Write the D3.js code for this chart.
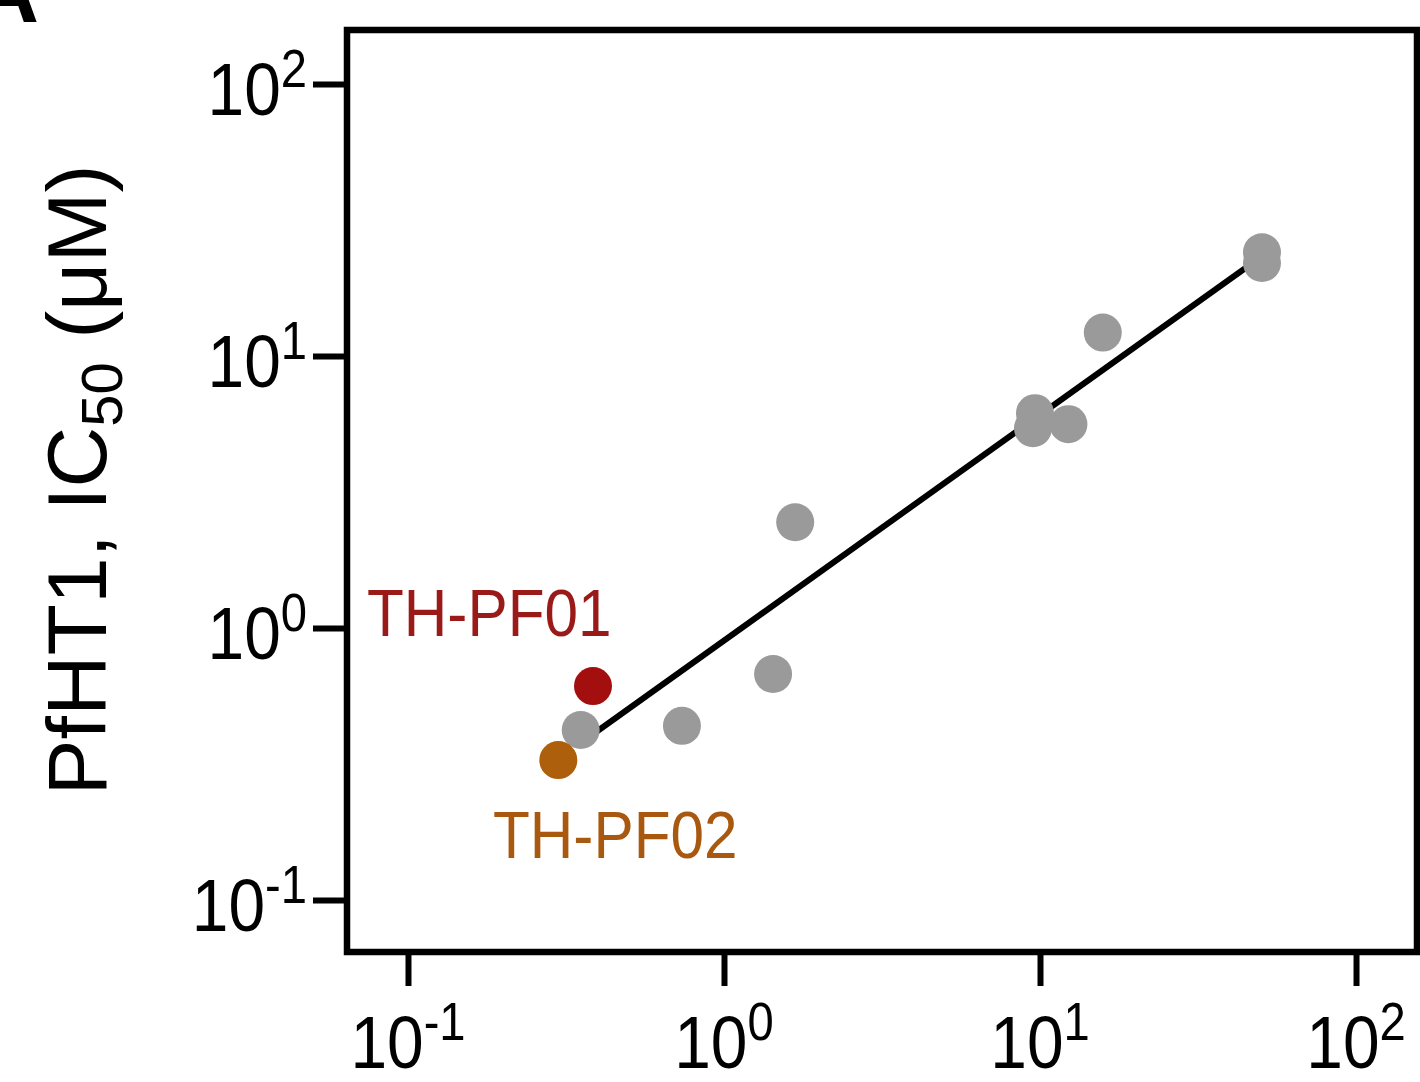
<!DOCTYPE html>
<html>
<head>
<meta charset="utf-8">
<script src="https://cdn.jsdelivr.net/npm/d3@7"></script>
<style>
  body { margin: 0; background: #fff; }
  svg { display: block; font-family: "Liberation Sans", Arial, sans-serif; }
</style>
</head>
<body>
<svg class="chart" width="1420" height="1082"></svg>
<script>
// values (x and y both in µM, log axes)
var grayX = [50.4, 50.4, 15.8, 9.64, 9.50, 12.3, 1.68, 1.43, 0.736, 0.352];
var grayY = [24.1, 22.0, 12.2, 6.17, 5.43, 5.62, 2.45, 0.678, 0.437, 0.422];
var namedX = [0.385, 0.299];
var namedY = [0.612, 0.327];
var namedLabels = ["TH-PF01", "TH-PF02"];
var namedColors = ["#a30f0f", "#ad5f0c"];
var labelColors = ["#9a1a1a", "#a8590f"];
var fitX = [0.352, 50.4];
var fitY = [0.378, 23.3];
var tickExp = [-1, 0, 1, 2];

var svg = d3.select("svg.chart");
var plotL = 347, plotR = 1417, plotT = 30, plotB = 952;

var x = d3.scaleLog().domain([Math.pow(10, -1.193), Math.pow(10, 2.193)]).range([plotL, plotR]);
var y = d3.scaleLog().domain([Math.pow(10, -1.191), Math.pow(10, 2.199)]).range([plotB, plotT]);

// panel letter fragment at the very corner
svg.append("text")
    .attr("x", -26).attr("y", 22)
    .attr("font-size", 90).attr("font-weight", "bold")
    .text("A");

// fit line (under the dots)
var fit = fitX.map(function(d, i) { return [d, fitY[i]]; });
svg.append("path")
    .datum(fit)
    .attr("d", d3.line().x(function(d) { return x(d[0]); }).y(function(d) { return y(d[1]); }))
    .attr("stroke", "#000")
    .attr("stroke-width", 6)
    .attr("fill", "none");

var gray = grayX.map(function(d, i) { return {x: d, y: grayY[i]}; });
svg.append("g")
    .selectAll("circle")
    .data(gray)
    .enter().append("circle")
    .attr("cx", function(d) { return x(d.x); })
    .attr("cy", function(d) { return y(d.y); })
    .attr("r", 19)
    .attr("fill", "#9a9a9a");

var named = namedX.map(function(d, i) { return {x: d, y: namedY[i], c: namedColors[i]}; });
svg.append("g")
    .selectAll("circle")
    .data(named)
    .enter().append("circle")
    .attr("cx", function(d) { return x(d.x); })
    .attr("cy", function(d) { return y(d.y); })
    .attr("r", 19)
    .attr("fill", function(d) { return d.c; });

// labels for the two compounds
var labelPos = [[367, 636], [493, 858]];
svg.append("g")
    .selectAll("text")
    .data(namedLabels)
    .enter().append("text")
    .attr("transform", function(d, i) { return "translate(" + labelPos[i][0] + "," + labelPos[i][1] + ") scale(0.9,1)"; })
    .attr("font-size", 67)
    .attr("fill", function(d, i) { return labelColors[i]; })
    .text(function(d) { return d; });

// frame
svg.append("rect")
    .attr("x", plotL).attr("y", plotT)
    .attr("width", plotR - plotL).attr("height", plotB - plotT)
    .attr("fill", "none")
    .attr("stroke", "#000")
    .attr("stroke-width", 6.5);

var tickVals = tickExp.map(function(e) { return Math.pow(10, e); });

var yAxis = svg.append("g")
    .attr("transform", "translate(" + plotL + ",0)")
    .call(d3.axisLeft(y).tickValues(tickVals).tickSize(34).tickFormat(""));
var xAxis = svg.append("g")
    .attr("transform", "translate(0," + plotB + ")")
    .call(d3.axisBottom(x).tickValues(tickVals).tickSize(34).tickFormat(""));
[yAxis, xAxis].forEach(function(a) {
    a.select(".domain").remove();
    a.selectAll(".tick line").attr("stroke", "#000").attr("stroke-width", 6);
});

function powLabel(sel) {
    sel.append("tspan").attr("font-size", 74).text("10");
    sel.append("tspan").attr("font-size", 53).attr("dy", -28).text(function(d) { return d; });
}

svg.append("g")
    .selectAll("text")
    .data(tickExp)
    .enter().append("text")
    .attr("transform", function(d) { return "translate(307," + (y(Math.pow(10, d)) + 31) + ") scale(0.89,1)"; })
    .attr("text-anchor", "end")
    .call(powLabel);

svg.append("g")
    .selectAll("text")
    .data(tickExp)
    .enter().append("text")
    .attr("transform", function(d) { return "translate(" + x(Math.pow(10, d)) + ",1068) scale(0.89,1)"; })
    .attr("text-anchor", "middle")
    .call(powLabel);

// y axis title
var yt = svg.append("text")
    .attr("transform", "translate(106,480) rotate(-90)")
    .attr("text-anchor", "middle")
    .attr("font-size", 84);
yt.append("tspan").text("PfHT1, IC");
yt.append("tspan").attr("font-size", 58).attr("dy", 16).text("50");
yt.append("tspan").attr("dy", -16).text(" (μM)");
</script>
</body>
</html>
